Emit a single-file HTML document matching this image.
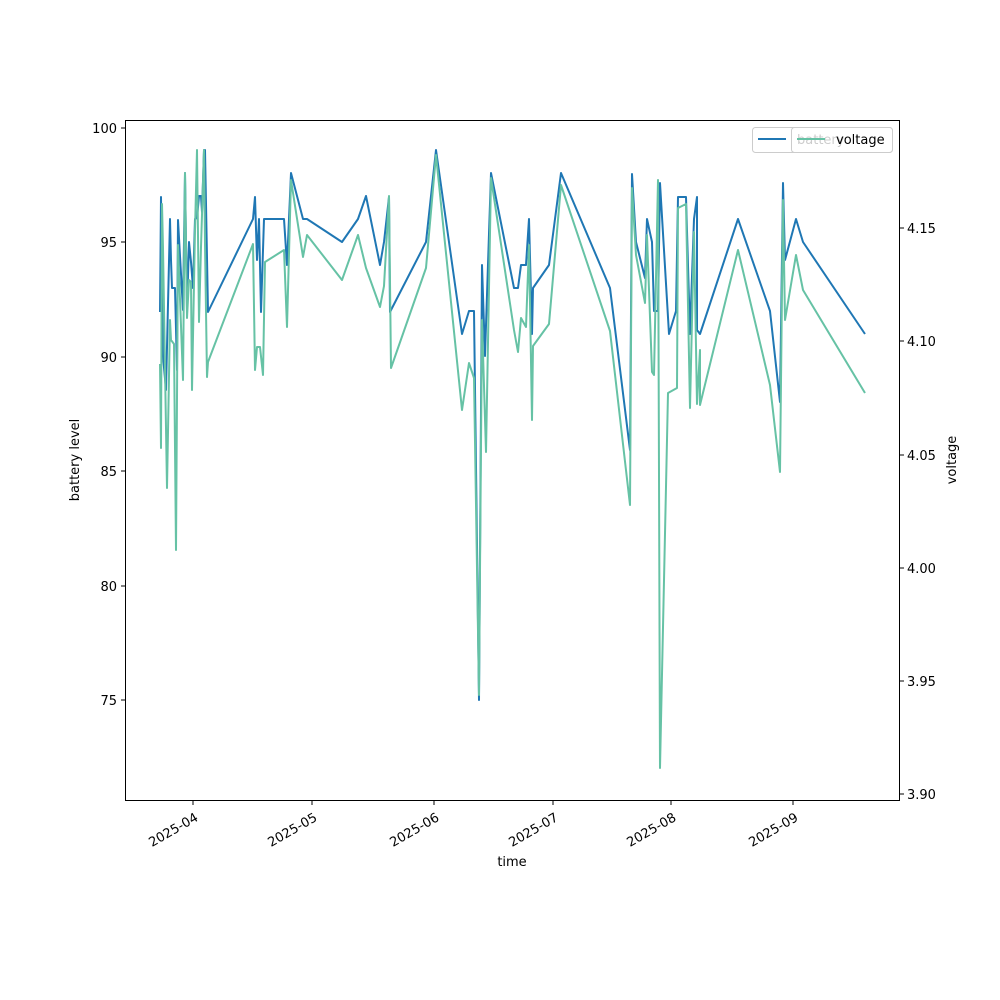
<!DOCTYPE html>
<html><head><meta charset="utf-8"><style>body{margin:0;background:#fff}svg{display:block}text{font-family:"DejaVu Sans","Liberation Sans",sans-serif;font-size:13px;fill:#000}</style></head>
<body>
<svg width="1000" height="1000" xmlns="http://www.w3.org/2000/svg">
<rect width="1000" height="1000" fill="#fff"/>
<g fill="none" stroke-width="2" stroke-linejoin="round">
<polyline stroke="#1f77b4" points="160,312 161,197 163,356 166,390 170,219 171,260 172,288 175,288 177,370 178,220 183,310 185,173 187,310 189,242 191,262 193,288 195,219 197,218 199,196 201,196 202,212 204,150 205,208 205,150 208,312 253,219 255,197 257,260 259,219 261,312 264,219 284,219 287,265 291,173 303,219 307,219 342,242 358,219 366,196 380,265 384,242 389,197 390,312 426,242 436,150 462,334 469,311 474,311 479,700 482,265 485,356 491,173 514,288 518,288 521,265 526,265 529,219 532,334 533,288 549,265 561,173 610,288 630,450 632,174 636,242 645,278 647,219 652,242 654,311 658,311 660,183 669,334 676,311 678,197 686,197 690,334 694,219 697,197 697,330 700,334 738,219 770,311 780,402 783,183 785,260 796,219 803,242 865,334"/>
<polyline stroke="#66c2a5" points="160,364 161,448 162,204 163,248 167,488 170,320 171,340 174,344 176,550 178,245 183,380 185,173 187,318 189,280 191,282 192,390 195,230 197,150 199,322 201,247 204,150 205,244 207,377 208,362 253,244 255,370 257,347 260,347 263,375 265,262 284,250 287,327 291,180 303,257 307,235 342,280 358,235 366,268 380,307 384,286 389,196 391,368 426,268 436,155 462,410 469,363 474,378 479,695 482,320 486,452 491,178 514,330 518,352 521,318 526,327 529,245 532,420 533,346 549,324 561,185 610,331 630,505 632,188 636,255 645,303 647,235 652,372 654,375 658,180 660,768 668,393 677,388 678,208 686,204 690,408 694,232 697,404 700,350 700,405 738,250 770,385 780,472 783,200 785,320 796,255 803,290 865,393"/>
</g>
<rect x="125.5" y="120.5" width="774" height="680" fill="none" stroke="#000" stroke-width="1"/>
<g stroke="#000" stroke-width="1">
<line x1="121" x2="125" y1="128" y2="128"/><line x1="121" x2="125" y1="242" y2="242"/><line x1="121" x2="125" y1="357" y2="357"/><line x1="121" x2="125" y1="471" y2="471"/><line x1="121" x2="125" y1="586" y2="586"/><line x1="121" x2="125" y1="700" y2="700"/>
<line x1="900" x2="904" y1="228" y2="228"/><line x1="900" x2="904" y1="341" y2="341"/><line x1="900" x2="904" y1="455" y2="455"/><line x1="900" x2="904" y1="568" y2="568"/><line x1="900" x2="904" y1="681" y2="681"/><line x1="900" x2="904" y1="794" y2="794"/>
<line x1="193" x2="193" y1="801" y2="805"/><line x1="312" x2="312" y1="801" y2="805"/><line x1="434" x2="434" y1="801" y2="805"/><line x1="553" x2="553" y1="801" y2="805"/><line x1="671" x2="671" y1="801" y2="805"/><line x1="793" x2="793" y1="801" y2="805"/>
</g>
<g text-anchor="end">
<text x="117" y="133">100</text><text x="117" y="247">95</text><text x="117" y="362">90</text><text x="117" y="476">85</text><text x="117" y="591">80</text><text x="117" y="705">75</text>
</g>
<g>
<text x="907" y="233">4.15</text><text x="907" y="346">4.10</text><text x="907" y="460">4.05</text><text x="907" y="573">4.00</text><text x="907" y="686">3.95</text><text x="907" y="799">3.90</text>
</g>
<g text-anchor="end">
<text transform="translate(199,820) rotate(-30)">2025-04</text>
<text transform="translate(318,820) rotate(-30)">2025-05</text>
<text transform="translate(440,820) rotate(-30)">2025-06</text>
<text transform="translate(559,820) rotate(-30)">2025-07</text>
<text transform="translate(677,820) rotate(-30)">2025-08</text>
<text transform="translate(799,820) rotate(-30)">2025-09</text>
</g>
<text x="512" y="866" text-anchor="middle">time</text>
<text transform="translate(79,460) rotate(-90)" text-anchor="middle">battery level</text>
<text transform="translate(956,460) rotate(-90)" text-anchor="middle">voltage</text>
<rect x="752.5" y="127.5" width="140" height="25" rx="3" fill="#fff" fill-opacity="0.8" stroke="#ccc"/>
<line x1="758" x2="786" y1="139" y2="139" stroke="#1f77b4" stroke-width="2"/>
<text x="797" y="144">battery</text>
<rect x="791.5" y="127.5" width="101" height="25" rx="3" fill="#fff" fill-opacity="0.8" stroke="#ccc"/>
<line x1="797" x2="825" y1="139" y2="139" stroke="#66c2a5" stroke-width="2"/>
<text x="836" y="144">voltage</text>
</svg>
</body></html>
